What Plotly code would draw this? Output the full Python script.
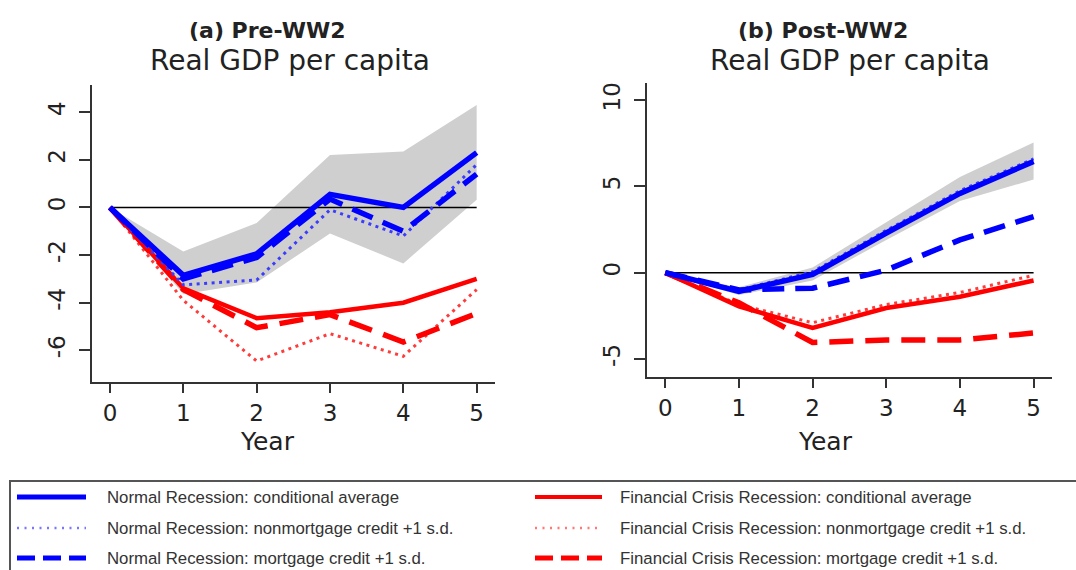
import plotly.graph_objects as go

# Years after the business-cycle peak
years = [0, 1, 2, 3, 4, 5]

# Pre-WW2 real GDP per capita paths (% deviation from peak)
pre_band_lo = [0, -3.65, -3.15, -1.1, -2.35, 0.32]
pre_band_hi = [0, -1.85, -0.65, 2.2, 2.35, 4.3]
pre_normal_avg = [0, -2.85, -1.95, 0.55, 0.0, 2.3]
pre_normal_nonmort = [0, -3.25, -3.05, -0.1, -1.2, 1.8]
pre_normal_mort = [0, -3.0, -2.1, 0.35, -1.0, 1.4]
pre_fin_avg = [0, -3.4, -4.65, -4.4, -4.0, -3.0]
pre_fin_nonmort = [0, -3.9, -6.45, -5.3, -6.25, -3.45]
pre_fin_mort = [0, -3.45, -5.05, -4.5, -5.65, -4.45]

# Post-WW2 real GDP per capita paths
post_band_lo = [0, -1.3, -0.45, 1.9, 4.15, 5.4]
post_band_hi = [0, -0.85, 0.3, 2.9, 5.55, 7.55]
post_normal_avg = [0, -1.08, -0.1, 2.3, 4.6, 6.45]
post_normal_nonmort = [0, -1.0, 0.05, 2.45, 4.75, 6.6]
post_normal_mort = [0, -1.0, -0.9, 0.15, 1.9, 3.25]
post_fin_avg = [0, -1.95, -3.2, -2.05, -1.4, -0.45]
post_fin_nonmort = [0, -1.85, -2.9, -1.85, -1.15, -0.15]
post_fin_mort = [0, -1.75, -4.05, -3.9, -3.9, -3.5]

pre_ticks = [-6, -4, -2, 0, 2, 4]
post_ticks = [-5, 0, 5, 10]

panel_titles = ["(a) Pre-WW2", "(b) Post-WW2"]
panel_subtitle = "Real GDP per capita"
x_title = "Year"

series_names = [
    "Normal Recession: conditional average",
    "Normal Recession: nonmortgage credit +1 s.d.",
    "Normal Recession: mortgage credit +1 s.d.",
    "Financial Crisis Recession: conditional average",
    "Financial Crisis Recession: nonmortgage credit +1 s.d.",
    "Financial Crisis Recession: mortgage credit +1 s.d.",
]

W, H = 1076, 570
FONT = "DejaVu Sans, Liberation Sans, Arial, sans-serif"
KEY_FONT = "Liberation Sans, Arial, Helvetica, sans-serif"
BLUE = "rgb(0,0,255)"
RED = "rgb(255,0,0)"
BAND = "rgb(207,207,207)"
AXIS = "#333333"
TEXT = "#222222"

# line styles: (color, width, dash) in the panels and in the key
styles = [
    (BLUE, 5.5, "solid"),
    ("rgb(60,60,255)", 3, "3px,4.5px"),
    (BLUE, 5.5, "22px,11px"),
    (RED, 4.5, "solid"),
    ("rgb(255,60,60)", 3, "3px,4.5px"),
    (RED, 5.5, "24px,12px"),
]
key_styles = [
    (BLUE, 5, "solid"),
    ("rgb(120,120,255)", 2.5, "2px,5.5px"),
    (BLUE, 5, "18px,8px"),
    (RED, 4, "solid"),
    ("rgb(255,120,120)", 2.5, "2px,5.5px"),
    (RED, 5, "18px,8px"),
]

fig = go.Figure()

panels = [
    ("x", "y", pre_band_lo, pre_band_hi,
     [pre_normal_avg, pre_normal_nonmort, pre_normal_mort,
      pre_fin_avg, pre_fin_nonmort, pre_fin_mort]),
    ("x2", "y2", post_band_lo, post_band_hi,
     [post_normal_avg, post_normal_nonmort, post_normal_mort,
      post_fin_avg, post_fin_nonmort, post_fin_mort]),
]

draw_order = [4, 5, 3, 1, 2, 0]

for xa, ya, lo, hi, paths in panels:
    # confidence band around the normal-recession average
    fig.add_trace(go.Scatter(x=years, y=lo, mode="lines", line=dict(width=0),
                             xaxis=xa, yaxis=ya, showlegend=False, hoverinfo="skip"))
    fig.add_trace(go.Scatter(x=years, y=hi, mode="lines", line=dict(width=0),
                             fill="tonexty", fillcolor=BAND,
                             xaxis=xa, yaxis=ya, showlegend=False, hoverinfo="skip"))
    # zero reference line
    fig.add_trace(go.Scatter(x=[years[0], years[-1]], y=[0, 0], mode="lines",
                             line=dict(color="black", width=1.5),
                             xaxis=xa, yaxis=ya, showlegend=False, hoverinfo="skip"))
    for i in draw_order:
        c, w, d = styles[i]
        fig.add_trace(go.Scatter(x=years, y=paths[i], mode="lines", name=series_names[i],
                                 line=dict(color=c, width=w, dash=d),
                                 xaxis=xa, yaxis=ya, showlegend=False))


def px(v):
    return v / W


def py(v):
    return 1 - v / H


axis_common = dict(
    showline=True, linecolor=AXIS, linewidth=2, ticks="outside",
    tickwidth=2, tickcolor=AXIS, showgrid=False, zeroline=False,
    tickfont=dict(family=FONT, size=23, color=TEXT),
)

fig.update_layout(
    width=W, height=H,
    margin=dict(l=0, r=0, t=0, b=0),
    paper_bgcolor="white", plot_bgcolor="white",
    font=dict(family=FONT, color=TEXT),
    xaxis=dict(domain=[px(92), px(495)], range=[-0.245, 5.25], tickvals=years,
               anchor="y", ticklen=9, ticklabelstandoff=0, **axis_common),
    yaxis=dict(domain=[py(382), py(85)], range=[-7.33, 5.14], tickvals=pre_ticks,
               ticktext=[str(v) for v in pre_ticks], ticklen=11,
               tickangle=-90, anchor="x", ticklabelstandoff=5, **axis_common),
    xaxis2=dict(domain=[px(647), px(1052)], range=[-0.248, 5.25], tickvals=years,
                anchor="y2", ticklen=9, ticklabelstandoff=0, **axis_common),
    yaxis2=dict(domain=[py(377), py(83)], range=[-6.05, 11.0], tickvals=post_ticks,
                ticktext=[str(v) for v in post_ticks], ticklen=11,
                tickangle=-90, anchor="x2", ticklabelstandoff=5, **axis_common),
)

annotations = []
# panel headings and axis titles
for title, tx, stx, yx in [(panel_titles[0], 267, 290, 267), (panel_titles[1], 823, 850, 825)]:
    annotations.append(dict(text="<b>" + title + "</b>", x=px(tx), y=py(31), xref="paper",
                            yref="paper", showarrow=False, xanchor="center", yanchor="middle",
                            font=dict(family=FONT, size=22, color=TEXT)))
    annotations.append(dict(text=panel_subtitle, x=px(stx), y=py(60), xref="paper",
                            yref="paper", showarrow=False, xanchor="center", yanchor="middle",
                            font=dict(family=FONT, size=28, color=TEXT)))
    annotations.append(dict(text=x_title, x=px(yx), y=py(441), xref="paper",
                            yref="paper", showarrow=False, xanchor="center", yanchor="middle",
                            font=dict(family=FONT, size=25, color=TEXT)))

shapes = []
# key frame
shapes.append(dict(type="rect", xref="paper", yref="paper",
                   x0=px(10), x1=px(1090), y0=py(590), y1=py(481),
                   line=dict(color="#555555", width=2), fillcolor="rgba(0,0,0,0)"))

rows_y = [497, 528, 558]
cols = [(17, 86, 105), (535, 602, 618)]
for i, name in enumerate(series_names):
    col, row = divmod(i, 3)
    x0, x1, xt = cols[col]
    yy = rows_y[row]
    c, w, d = key_styles[i]
    shapes.append(dict(type="line", xref="paper", yref="paper",
                       x0=px(x0), x1=px(x1), y0=py(yy), y1=py(yy),
                       line=dict(color=c, width=w, dash=d)))
    annotations.append(dict(text=name, x=px(xt), y=py(yy), xref="paper", yref="paper",
                            showarrow=False, xanchor="left", yanchor="middle",
                            font=dict(family=KEY_FONT, size=16.8, color="#333333")))

fig.update_layout(annotations=annotations, shapes=shapes)

fig.write_html("out.html")
